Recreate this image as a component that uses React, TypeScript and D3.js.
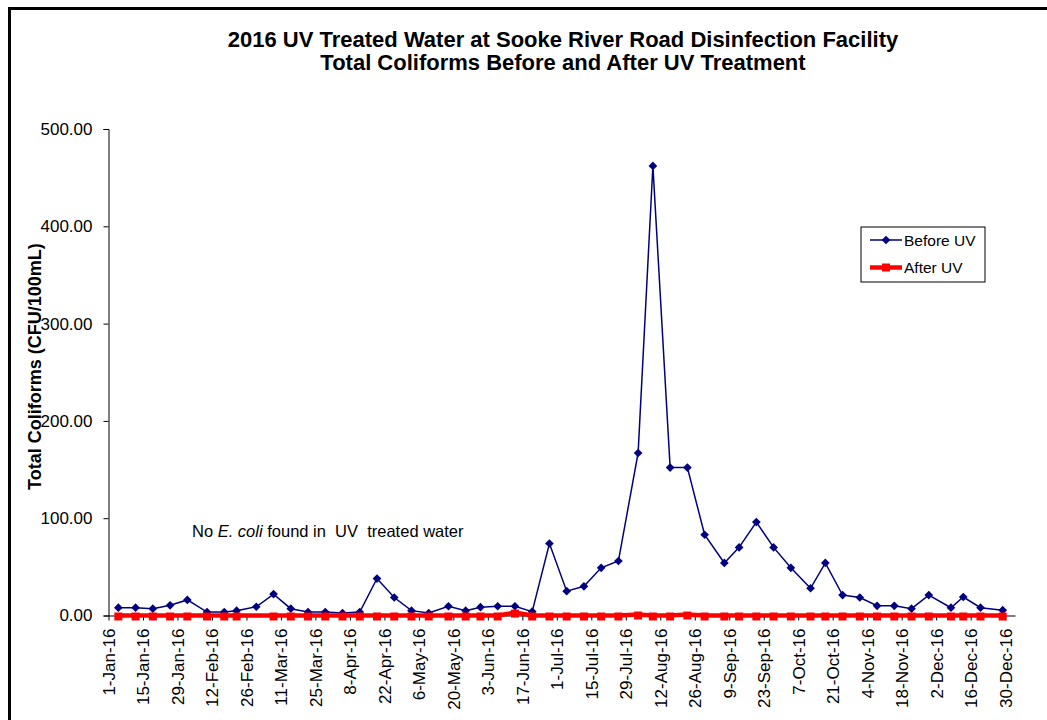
import React, { useEffect, useRef } from "react";
import * as d3 from "d3";

// sampling dates (weekly grab samples)
const sampleDates = [
  "2016-01-05", "2016-01-12", "2016-01-19", "2016-01-26", "2016-02-02", "2016-02-10",
  "2016-02-17", "2016-02-22", "2016-03-01", "2016-03-08", "2016-03-15", "2016-03-22",
  "2016-03-29", "2016-04-05", "2016-04-12", "2016-04-19", "2016-04-26", "2016-05-03",
  "2016-05-10", "2016-05-18", "2016-05-25", "2016-05-31", "2016-06-07", "2016-06-14",
  "2016-06-21", "2016-06-28", "2016-07-05", "2016-07-12", "2016-07-19", "2016-07-26",
  "2016-08-03", "2016-08-09", "2016-08-16", "2016-08-23", "2016-08-30", "2016-09-07",
  "2016-09-13", "2016-09-20", "2016-09-27", "2016-10-04", "2016-10-12", "2016-10-18",
  "2016-10-25", "2016-11-01", "2016-11-08", "2016-11-15", "2016-11-22", "2016-11-29",
  "2016-12-08", "2016-12-13", "2016-12-20", "2016-12-29",
];

// Total coliforms, CFU/100mL
const beforeUV = [
  8, 8, 7, 10.5, 16, 3.5, 3.5, 5, 9, 22, 7, 3.5,
  3.5, 2.5, 3.5, 38, 18.5, 5, 2.5, 9.5, 5, 8.5, 9.5, 9.5,
  4, 74, 25, 30, 49, 56, 167, 462, 152, 152, 83, 54,
  70, 96, 70, 49, 28, 54, 21, 18.5, 10, 10, 7, 21,
  8, 19, 8, 5.5,
];

const afterUV = [
  0, 0, 0, 0, 0, 0, 0, 0, null, 0, 0, 0,
  0, 0, 0, 0, 0, 0, 0, 0, 0, 0, 0, 3,
  0, 0, 0, 0, 0, 0, 1, 0, 0, 1, 0, 0,
  0, 0, 0, 0, 0, 0, 0, 0, 0, 0, 0, 0,
  0, 0, 0, 0,
];

const yTicks = [0, 100, 200, 300, 400, 500];
const titleLines = [
  "2016 UV Treated Water at Sooke River Road Disinfection Facility",
  "Total Coliforms Before and After UV Treatment",
];
const seriesNames = ["Before UV", "After UV"];

const FONT = "'Liberation Sans', Arial, sans-serif";

export default function App() {
  const ref = useRef<SVGSVGElement>(null);

  useEffect(() => {
    const svg = d3.select(ref.current);
    svg.selectAll("*").remove();

    const parse = d3.timeParse("%Y-%m-%d");
    const dates = sampleDates.map((d) => parse(d) as Date);

    const x = d3
      .scaleTime()
      .domain([new Date(2016, 0, 1), new Date(2017, 0, 3)])
      .range([108.5, 1015]);
    const y = d3.scaleLinear().domain([0, 500]).range([615.5, 129]);

    // chart area border (thick frame, cropped on right/bottom)
    svg
      .append("rect")
      .attr("x", 9.5)
      .attr("y", 8.5)
      .attr("width", 1100)
      .attr("height", 800)
      .attr("fill", "white")
      .attr("stroke", "black")
      .attr("stroke-width", 3);

    // title
    svg
      .append("g")
      .selectAll("text")
      .data(titleLines)
      .enter()
      .append("text")
      .attr("x", 563)
      .attr("y", (d, i) => 47 + i * 23)
      .attr("text-anchor", "middle")
      .style("font-family", FONT)
      .style("font-weight", "bold")
      .style("font-size", "22px")
      .text((d) => d);

    // y axis
    const yAxis = svg
      .append("g")
      .attr("transform", "translate(108.5,0)")
      .call(
        d3
          .axisLeft(y)
          .tickValues(yTicks)
          .tickFormat(d3.format(".2f"))
          .tickSize(5)
          .tickPadding(11)
      );
    yAxis.select(".domain").attr("stroke", "black");
    yAxis
      .selectAll("text")
      .style("font-family", FONT)
      .style("font-size", "17px")
      .attr("fill", "black");

    // x axis
    const xTicks = d3.timeDay.range(new Date(2016, 0, 1), new Date(2016, 11, 31), 14);
    const xAxis = svg
      .append("g")
      .attr("transform", "translate(0,615.5)")
      .call(
        d3
          .axisBottom(x)
          .tickValues(xTicks)
          .tickFormat(d3.timeFormat("%-d-%b-%y") as any)
          .tickSize(5)
          .tickSizeOuter(0)
      );
    xAxis.select(".domain").attr("stroke", "black");
    xAxis
      .selectAll("text")
      .style("font-family", FONT)
      .style("font-size", "17px")
      .attr("fill", "black")
      .attr("text-anchor", "end")
      .attr("transform", "rotate(-90)")
      .attr("x", -13)
      .attr("y", 0)
      .attr("dy", "0.35em");

    // y axis title
    svg
      .append("text")
      .attr("transform", "translate(41,490) rotate(-90)")
      .attr("text-anchor", "start")
      .style("font-family", FONT)
      .style("font-weight", "bold")
      .style("font-size", "18px")
      .text("Total Coliforms  (CFU/100mL)");

    // note
    const note = svg
      .append("text")
      .attr("x", 192)
      .attr("y", 537)
      .attr("xml:space", "preserve")
      .style("font-family", FONT)
      .style("font-size", "16.5px");
    note.append("tspan").text("No ");
    note.append("tspan").style("font-style", "italic").text("E. coli");
    note.append("tspan").text(" found in  UV  treated water");

    const square = d3.symbol().type(d3.symbolSquare);

    const line = d3
      .line<{ date: Date; v: number }>()
      .x((p) => x(p.date))
      .y((p) => y(p.v));

    // Before UV (navy, diamonds)
    const beforePts = dates.map((d, i) => ({ date: d, v: beforeUV[i] }));
    svg
      .append("path")
      .datum(beforePts)
      .attr("d", line)
      .attr("fill", "none")
      .attr("stroke", "#000080")
      .attr("stroke-width", 1.5);
    svg
      .append("g")
      .selectAll("path")
      .data(beforePts)
      .enter()
      .append("path")
      .attr("d", square.size(38)() as string)
      .attr("transform", (p) => `translate(${x(p.date)},${y(p.v)}) rotate(45)`)
      .attr("fill", "#000080");

    // After UV (red, thick, squares)
    const afterPts = dates
      .map((d, i) => ({ date: d, v: afterUV[i] }))
      .filter((p) => p.v !== null) as { date: Date; v: number }[];
    svg
      .append("path")
      .datum(afterPts)
      .attr("d", line)
      .attr("fill", "none")
      .attr("stroke", "#FF0000")
      .attr("stroke-width", 4.5);
    svg
      .append("g")
      .selectAll("path")
      .data(afterPts)
      .enter()
      .append("path")
      .attr("d", d3.symbol().type(d3.symbolSquare).size(64)() as string)
      .attr("transform", (p) => `translate(${x(p.date)},${y(p.v) + 1})`)
      .attr("fill", "#FF0000");

    // legend
    const legend = svg.append("g").attr("transform", "translate(861,227)");
    legend
      .append("rect")
      .attr("width", 124)
      .attr("height", 55)
      .attr("fill", "white")
      .attr("stroke", "black")
      .attr("stroke-width", 1);
    const rows = [
      { name: seriesNames[0], color: "#000080", w: 1.5, marker: 38, rot: 45 },
      { name: seriesNames[1], color: "#FF0000", w: 4.5, marker: 64, rot: 0 },
    ];
    rows.forEach((r, i) => {
      const yy = 13 + i * 27.5;
      legend
        .append("line")
        .attr("x1", 9)
        .attr("x2", 41)
        .attr("y1", yy)
        .attr("y2", yy)
        .attr("stroke", r.color)
        .attr("stroke-width", r.w);
      legend
        .append("path")
        .attr("d", d3.symbol().type(d3.symbolSquare).size(r.marker)() as string)
        .attr("transform", `translate(25,${yy}) rotate(${r.rot})`)
        .attr("fill", r.color);
      legend
        .append("text")
        .attr("x", 43)
        .attr("y", yy + 5.5)
        .style("font-family", FONT)
        .style("font-size", "15.5px")
        .text(r.name);
    });
  }, []);

  return (
    <svg
      ref={ref}
      width={1047}
      height={720}
      style={{ position: "absolute", left: 0, top: 0, background: "white" }}
    />
  );
}
